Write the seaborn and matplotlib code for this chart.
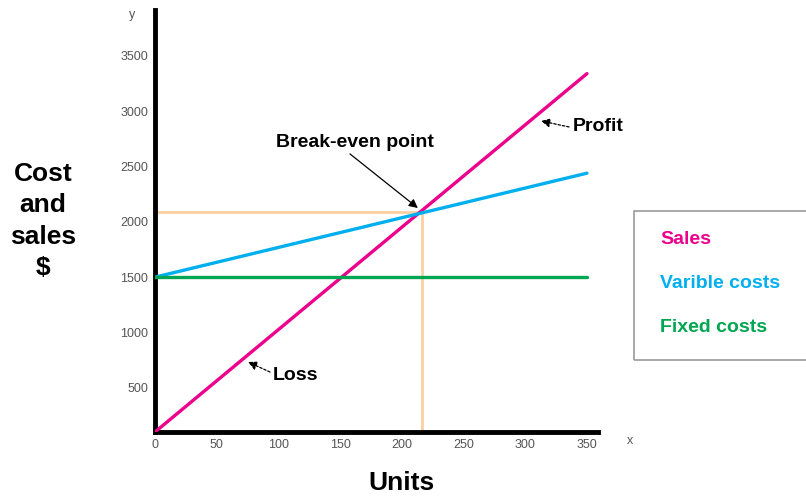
import matplotlib
matplotlib.use("Agg")
import matplotlib.pyplot as plt
import seaborn as sns
import pandas as pd

# ---- data ----
units = [0, 350]
sales = [100, 3340]
variable_costs = [1500, 2440]
fixed_costs = [1500, 1500]
break_even = (216, 2090)

x_ticks = [0, 50, 100, 150, 200, 250, 300, 350]
y_ticks = [500, 1000, 1500, 2000, 2500, 3000, 3500]

series_names = ["Sales", "Varible costs", "Fixed costs"]
series_colors = ["#EC008C", "#00B0EE", "#00A651"]

df = pd.DataFrame({
    "units": units * 3,
    "value": sales + variable_costs + fixed_costs,
    "series": [series_names[0]] * 2 + [series_names[1]] * 2 + [series_names[2]] * 2,
})

sns.set_style("white")
plt.rcParams["font.family"] = ["Liberation Sans", "DejaVu Sans"]
plt.rcParams["text.color"] = "black"

fig = plt.figure(figsize=(8.06, 4.97), dpi=100)
ax = fig.add_axes([0.1923, 0.1308, 0.5497, 0.849])

# break-even guide lines
ax.plot([0, break_even[0]], [break_even[1], break_even[1]], color="#FDD0A2", lw=2, zorder=1)
ax.plot([break_even[0], break_even[0]], [0, break_even[1]], color="#FDD0A2", lw=2, zorder=1)

sns.lineplot(data=df, x="units", y="value", hue="series",
             palette=dict(zip(series_names, series_colors)),
             linewidth=2.4, legend=False, ax=ax, zorder=3)

ax.set_xlim(0, 359)
ax.set_ylim(100, 3915)
ax.set_xticks(x_ticks)
ax.set_yticks(y_ticks)
ax.tick_params(axis="both", length=0, labelsize=9, labelcolor="#555555", pad=5)
ax.set_xlabel("")
ax.set_ylabel("")

for side in ["top", "right"]:
    ax.spines[side].set_visible(False)
for side in ["left", "bottom"]:
    ax.spines[side].set_linewidth(3.5)
    ax.spines[side].set_color("black")

# axis letters
fig.text(132 / 806, 1 - 15 / 497, "y", fontsize=9, color="#555555", ha="center", va="center")
fig.text(630 / 806, 1 - 441 / 497, "x", fontsize=9, color="#555555", ha="center", va="center")

# axis titles
fig.text(402 / 806, 1 - 483 / 497, "Units", fontsize=19, fontweight="bold", ha="center", va="center")
fig.text(43 / 806, 1 - 221 / 497, "Cost\nand\nsales\n$", fontsize=19, fontweight="bold",
         ha="center", va="center", linespacing=1.4)

# annotations
solid_arrow = dict(arrowstyle="-|>", color="black", lw=0.9, mutation_scale=13, shrinkA=0, shrinkB=0)
dashed_arrow = dict(arrowstyle="-|>", color="black", lw=0.9, mutation_scale=13, shrinkA=0, shrinkB=0,
                    linestyle=(0, (2, 1.5)))

ax.text(162, 2713, "Break-even point", fontsize=14, fontweight="bold", ha="center", va="center")
ax.annotate("", xy=(213, 2125), xytext=(158, 2614), arrowprops=solid_arrow)

ax.text(338.7, 2858, "Profit", fontsize=14, fontweight="bold", ha="left", va="center")
ax.annotate("", xy=(312.8, 2912), xytext=(335.5, 2858), arrowprops=dashed_arrow)

ax.text(95.6, 615, "Loss", fontsize=14, fontweight="bold", ha="left", va="center")
ax.annotate("", xy=(75.4, 733), xytext=(93.2, 642), arrowprops=dashed_arrow)

# legend box
box = plt.Rectangle((634 / 806, 1 - 360 / 497), 180 / 806, 149 / 497, transform=fig.transFigure,
                    fill=False, edgecolor="#999999", lw=1.2)
fig.patches.append(box)
for name, color, yy in zip(series_names, series_colors, [240, 283, 327]):
    fig.text(660 / 806, 1 - yy / 497, name, color=color, fontsize=14, fontweight="bold",
             ha="left", va="center")

fig.savefig("out.png", dpi=100)
